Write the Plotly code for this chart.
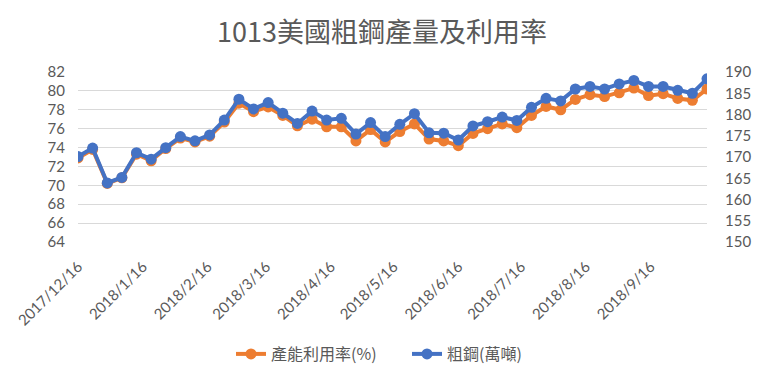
import plotly.graph_objects as go

dates = ["2017-12-16","2017-12-23","2017-12-30","2018-01-06","2018-01-13","2018-01-20","2018-01-27",
         "2018-02-03","2018-02-10","2018-02-17","2018-02-24","2018-03-03","2018-03-10","2018-03-17",
         "2018-03-24","2018-03-31","2018-04-07","2018-04-14","2018-04-21","2018-04-28","2018-05-05",
         "2018-05-12","2018-05-19","2018-05-26","2018-06-02","2018-06-09","2018-06-16","2018-06-23",
         "2018-06-30","2018-07-07","2018-07-14","2018-07-21","2018-07-28","2018-08-04","2018-08-11",
         "2018-08-18","2018-08-25","2018-09-01","2018-09-08","2018-09-15","2018-09-22","2018-09-29",
         "2018-10-06","2018-10-13"]

utilization = [72.9, 73.8, 70.2, 70.8, 73.3, 72.6, 73.9, 75.0, 74.6, 75.2, 76.7, 78.7, 77.8, 78.3,
               77.4, 76.3, 77.0, 76.2, 76.2, 74.7, 75.9, 74.6, 75.7, 76.5, 74.9, 74.7, 74.2, 75.5,
               76.0, 76.5, 76.1, 77.4, 78.35, 78.0, 79.1, 79.6, 79.4, 79.8, 80.3, 79.5, 79.7, 79.2,
               79.0, 80.2]

steel = [170.1, 172.1, 163.9, 165.2, 171.0, 169.5, 172.2, 174.8, 173.8, 175.2, 178.7, 183.6, 181.3, 182.8,
         180.3, 177.9, 180.8, 178.7, 179.1, 175.4, 178.1, 174.8, 177.7, 180.2, 175.7, 175.6, 174.0, 177.3,
         178.3, 179.4, 178.6, 181.7, 183.8, 183.2, 186.0, 186.6, 186.0, 187.2, 188.0, 186.6, 186.6, 185.7,
         185.0, 188.4]

tick_dates = ["2017-12-16","2018-01-16","2018-02-16","2018-03-16","2018-04-16","2018-05-16",
              "2018-06-16","2018-07-16","2018-08-16","2018-09-16"]
tick_labels = ["2017/12/16","2018/1/16","2018/2/16","2018/3/16","2018/4/16","2018/5/16",
               "2018/6/16","2018/7/16","2018/8/16","2018/9/16"]

title_text = "1013美國粗鋼產量及利用率"
name_util = "產能利用率(%)"
name_steel = "粗鋼(萬噸)"

ORANGE = "#ED7D31"
BLUE = "#4472C4"
GRAY = "#595959"
FONT = "Lato, 'Noto Sans CJK TC', sans-serif"

fig = go.Figure()
fig.add_trace(go.Scatter(x=dates, y=utilization, name=name_util, mode="lines+markers",
                         line=dict(color=ORANGE, width=4), marker=dict(color=ORANGE, size=11),
                         yaxis="y", legendwidth=131))
fig.add_trace(go.Scatter(x=dates, y=steel, name=name_steel, mode="lines+markers",
                         line=dict(color=BLUE, width=4), marker=dict(color=BLUE, size=11),
                         yaxis="y2"))

W, H = 761, 382
L, R, T, B = 78, 707, 72, 242
fig.update_layout(
    template="none",
    width=W, height=H, autosize=False,
    margin=dict(l=L, r=W - R, t=T, b=H - B, pad=0, autoexpand=False),
    paper_bgcolor="white", plot_bgcolor="white",
    font=dict(family=FONT, color=GRAY, size=15),
    title=dict(text=title_text, x=382 / W, xanchor="center", xref="container",
               y=1 - 33 / H, yanchor="middle", yref="container",
               font=dict(family="'Noto Sans CJK TC', sans-serif", size=27, color=GRAY)),
    xaxis=dict(type="date", range=["2017-12-16", "2018-10-13"], tickvals=tick_dates,
               ticktext=tick_labels, tickangle=-45, showgrid=False, zeroline=False,
               showline=False, ticks="", automargin=False, ticklabelstandoff=12,
               tickfont=dict(size=15, color=GRAY)),
    yaxis=dict(range=[64, 82], dtick=2, showgrid=True, gridcolor="#D9D9D9", gridwidth=1,
               zeroline=False, showline=False, ticks="", ticklabelstandoff=12, automargin=False,
               tickfont=dict(size=15, color=GRAY)),
    yaxis2=dict(range=[150, 190], dtick=5, overlaying="y", side="right", showgrid=False,
                zeroline=False, showline=False, ticks="", ticklabelstandoff=17, automargin=False,
                tickfont=dict(size=15, color=GRAY)),
    legend=dict(orientation="h", x=(231 - L) / (R - L), xanchor="left",
                y=-(354 - B) / (B - T), yanchor="middle",
                font=dict(family="'Noto Sans CJK TC', sans-serif", size=16, color=GRAY),
                itemwidth=30, bgcolor="rgba(0,0,0,0)"),
    showlegend=True,
)

fig.write_html("out.html", config={"displayModeBar": False},
               post_script="document.body.style.margin='0';document.body.style.padding='0';")
